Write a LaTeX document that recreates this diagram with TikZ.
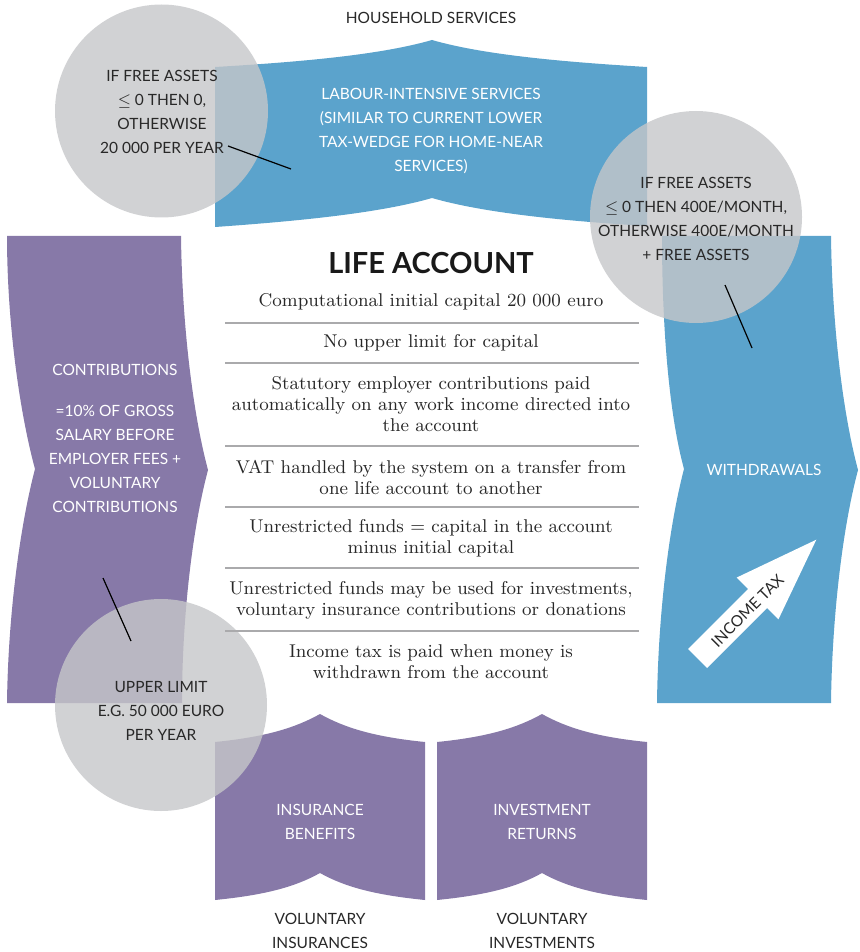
\documentclass[tikz,border=0pt]{standalone}
\usepackage{fontspec}
\setsansfont{Lato}
\definecolor{lablue}{RGB}{91,163,204}
\definecolor{lapurple}{RGB}{135,121,168}
\definecolor{lagray}{RGB}{198,199,201}
\definecolor{latext}{RGB}{40,40,40}
\definecolor{laline}{RGB}{170,170,172}

\begin{document}
\begin{tikzpicture}[x=0.5pt,y=-0.5pt,
	bandtext/.style={font=\sffamily\fontsize{7.75}{12}\selectfont, text=white, align=center},
	circtext/.style={font=\sffamily\fontsize{7.75}{12}\selectfont, text=latext, align=center},
	listtext/.style={font=\rmfamily\fontsize{9.25}{10.5}\selectfont, text=latext, align=center},
	bubble/.style={fill=lagray, fill opacity=0.8, draw=none},
	sep/.style={draw=laline, line width=1pt},
	leader/.style={draw=black, line width=0.6pt}]
\useasboundingbox (0,0) rectangle (860,952);

% banners
\fill[lablue] (215,67) .. controls (300,62) and (380,55) .. (432,40) .. controls (484,55) and (564,62) .. (647,67)
	-- (647,226) .. controls (564,221) and (484,213) .. (432,198) .. controls (380,213) and (300,221) .. (215,227) -- cycle;
\fill[lapurple] (7,236) -- (181,236) .. controls (182,320) and (192,410) .. (208,470) .. controls (192,530) and (182,620) .. (182,703)
	-- (7,703) .. controls (8,620) and (19,530) .. (35,469) .. controls (19,410) and (7,320) .. cycle;
\fill[lablue] (662,236) -- (831,236) .. controls (832,320) and (842,410) .. (858,470) .. controls (842,530) and (832,620) .. (831,703)
	-- (657,703) .. controls (658,620) and (668,530) .. (684,469) .. controls (668,410) and (662,320) .. cycle;
\fill[lapurple] (215,742) .. controls (265,737) and (295,728) .. (320,714) .. controls (345,728) and (375,737) .. (425,742)
	-- (425,900) .. controls (375,895) and (345,887) .. (320,873) .. controls (295,887) and (265,895) .. (215,900) -- cycle;
\fill[lapurple] (437,742) .. controls (487,737) and (517,728) .. (542,714) .. controls (567,728) and (597,737) .. (647,742)
	-- (647,900) .. controls (597,895) and (567,887) .. (542,873) .. controls (517,887) and (487,895) .. (437,900) -- cycle;

% income tax arrow
\fill[white] (688,649) -- (748,589) -- (736.6,577.6) -- (816.3,539.7) -- (778.4,619.4) -- (767,608) -- (707,668) -- cycle;
\node[circtext, rotate=45] (tax) at (747.5,611) {INCOME TAX};

% bubbles
\path[bubble] (161.5,111) circle[radius=106.5];
\path[bubble] (696,217) circle[radius=106];
\path[bubble] (161,705) circle[radius=106];

% banner texts
\node[bandtext] (services) at (431,131) {LABOUR-INTENSIVE SERVICES\\(SIMILAR TO CURRENT LOWER\\TAX-WEDGE FOR HOME-NEAR\\SERVICES)};
\node[bandtext] (contrib) at (115,370) {CONTRIBUTIONS};
\node[bandtext] (contribdef) at (115,459) {=10\% OF GROSS\\SALARY BEFORE\\EMPLOYER FEES +\\VOLUNTARY\\CONTRIBUTIONS};
\node[bandtext] (withdraw) at (764,470) {WITHDRAWALS};
\node[bandtext] (insben) at (320,822) {INSURANCE\\BENEFITS};
\node[bandtext] (invret) at (542,822) {INVESTMENT\\RETURNS};

% outer labels
\node[circtext] (household) at (431,18) {HOUSEHOLD SERVICES};
\node[circtext] (volins) at (320,931) {VOLUNTARY\\INSURANCES};
\node[circtext] (volinv) at (542,931) {VOLUNTARY\\INVESTMENTS};

% bubble texts
\node[circtext] (limit1) at (162,112) {IF FREE ASSETS\\$\leq$ 0 THEN 0,\\OTHERWISE\\20 000 PER YEAR};
\node[circtext] (limit2) at (696,219) {IF FREE ASSETS\\$\leq$ 0 THEN 400E/MONTH,\\OTHERWISE 400E/MONTH\\+ FREE ASSETS};
\node[circtext] (limit3) at (161,711) {UPPER LIMIT\\E.G. 50 000 EURO\\PER YEAR};

\coordinate (l1a) at (228,146);
\coordinate (l1b) at (291,169);
\coordinate (l2a) at (725,285);
\coordinate (l2b) at (752,348);
\coordinate (l3a) at (103,578);
\coordinate (l3b) at (131,641);
\draw[leader] (l1a) -- (l1b);
\draw[leader] (l2a) -- (l2b);
\draw[leader] (l3a) -- (l3b);

% life account
\node[font=\sffamily\bfseries\fontsize{14.5}{16}\selectfont, text=black!90] (title) at (431,263) {LIFE ACCOUNT};
\node[listtext] (item1) at (431,302) {Computational initial capital 20 000 euro};
\node[listtext] (item2) at (431,343) {No upper limit for capital};
\node[listtext] (item3) at (431,404) {Statutory employer contributions paid\\automatically on any work income directed into\\the account};
\node[listtext] (item4) at (431,477) {VAT handled by the system on a transfer from\\one life account to another};
\node[listtext] (item5) at (431,538) {Unrestricted funds = capital in the account\\minus initial capital};
\node[listtext] (item6) at (431,600) {Unrestricted funds may be used for investments,\\voluntary insurance contributions or donations};
\node[listtext] (item7) at (431,662) {Income tax is paid when money is\\withdrawn from the account};

\foreach \y in {323,363,446,507,568,631}
	\draw[sep] (225,\y) -- (639,\y);

\end{tikzpicture}
\end{document}
